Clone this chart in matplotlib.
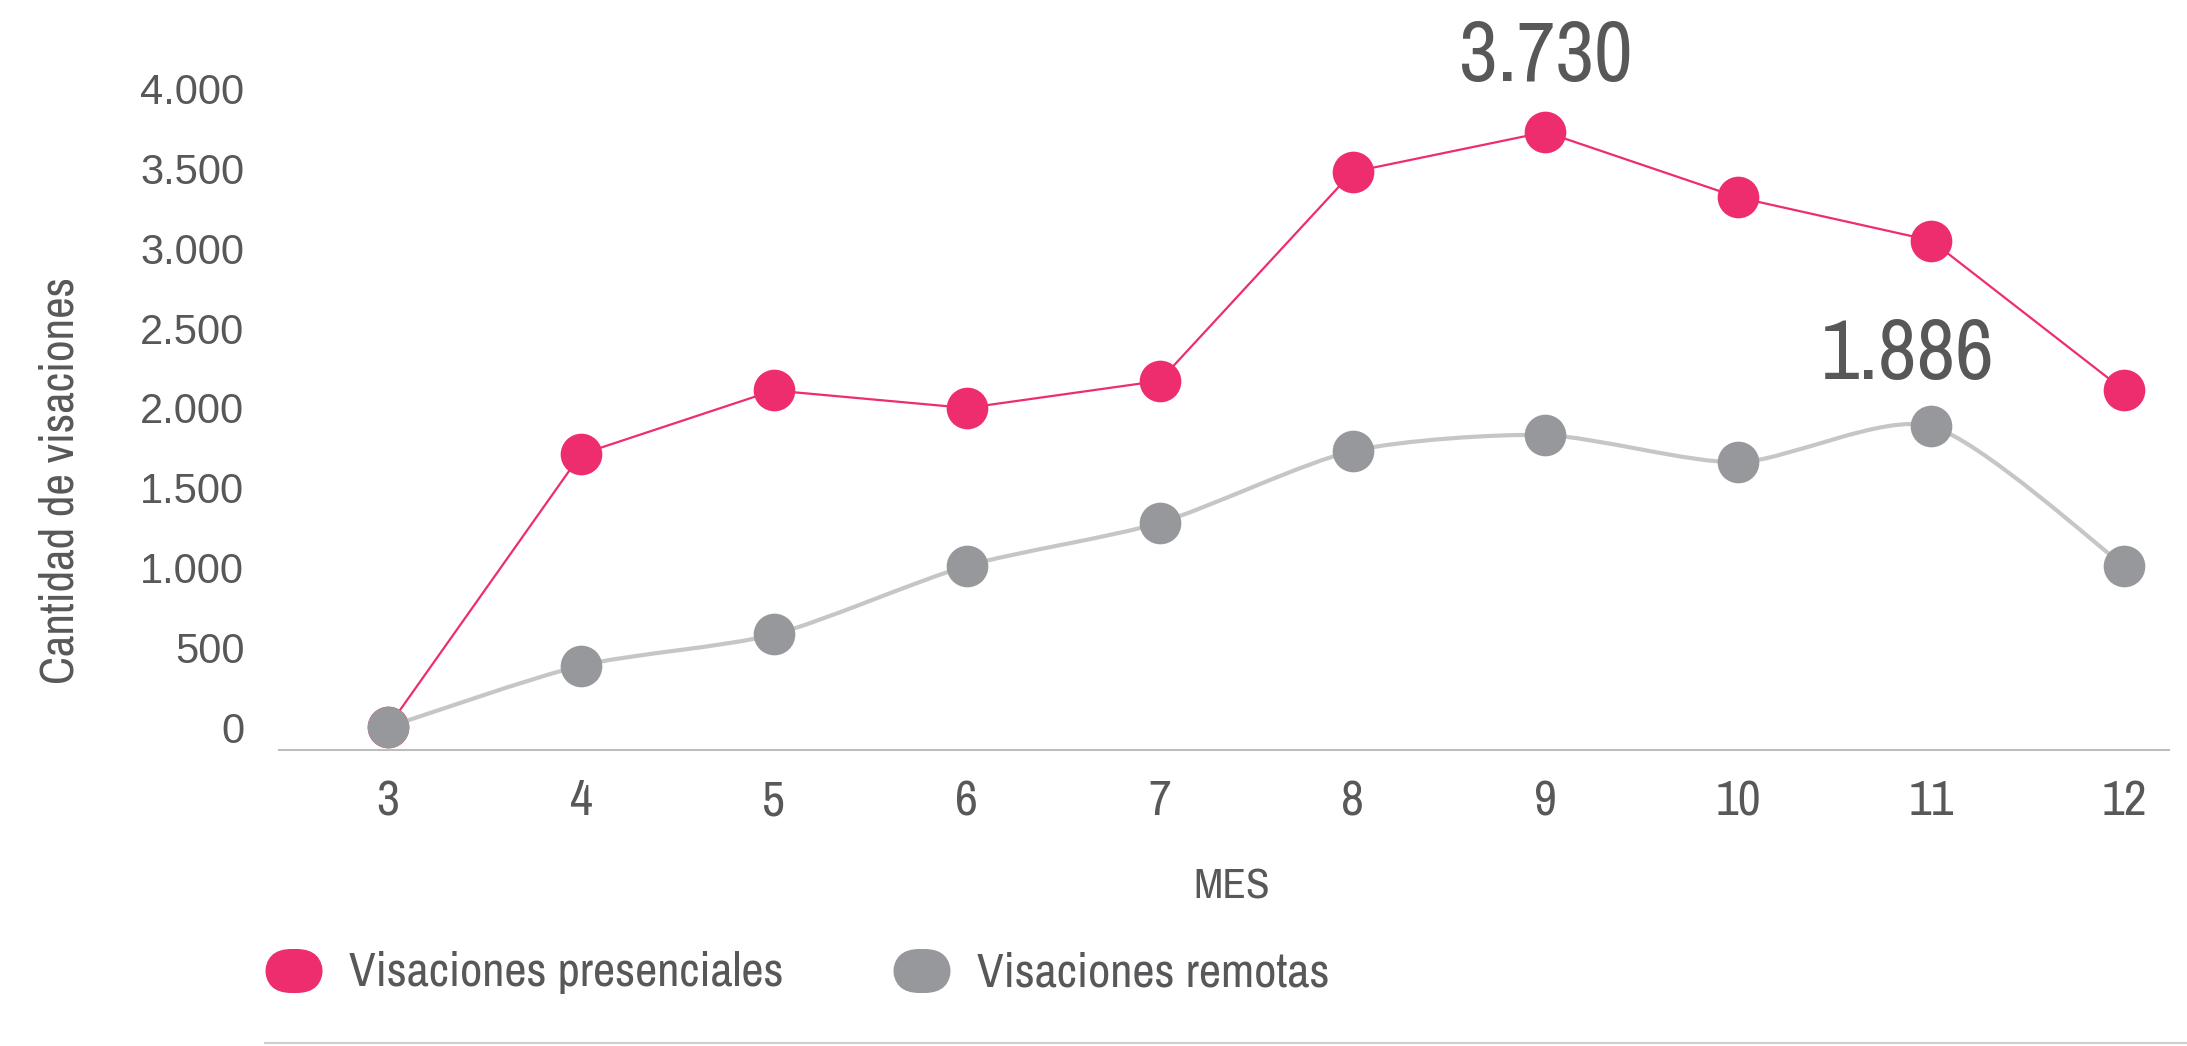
import matplotlib
matplotlib.use("Agg")
import matplotlib.pyplot as plt
from matplotlib.path import Path
from matplotlib.patches import PathPatch, FancyBboxPatch
from matplotlib import font_manager

# Monthly visa counts
meses = [3, 4, 5, 6, 7, 8, 9, 10, 11, 12]
presenciales = [0, 1710, 2110, 2000, 2170, 3480, 3730, 3320, 3050, 2110]
remotas = [0, 385, 580, 1010, 1280, 1730, 1830, 1660, 1886, 1010]
y_ticks = [0, 500, 1000, 1500, 2000, 2500, 3000, 3500, 4000]
y_ticklabels = ["0", "500", "1.000", "1.500", "2.000", "2.500", "3.000", "3.500", "4.000"]

PINK = "#EE2D6E"
GRAY_DOT = "#97989C"
GRAY_LINE = "#C6C6C6"
TEXT = "#58585A"

# pick a condensed face if one is installed
fonts = font_manager.fontManager.ttflist
narrow = None
for f in fonts:
    if "Narrow" in f.name or "Condensed" in f.name:
        narrow = f.name
        break
stretch = "normal"
if narrow is None:
    for f in fonts:
        if f.stretch in ("condensed", "semi-condensed", "extra-condensed", 500, 600, 700) \
                or str(f.stretch).endswith("condensed"):
            narrow = f.name
            stretch = f.stretch
            break
names = {f.name for f in fonts}
regular = "Liberation Sans" if "Liberation Sans" in names else "DejaVu Sans"
if narrow is None:
    narrow = regular
plt.rcParams["font.family"] = [narrow, "DejaVu Sans"]
plt.rcParams["font.stretch"] = stretch

fig = plt.figure(figsize=(21.87, 10.46), dpi=100)
ax = fig.add_axes([0.1276, 0.283, 0.8642, 0.6597])

# presenciales: straight segments
ax.plot(meses, presenciales, color=PINK, linewidth=1.6, zorder=2)
ax.plot(meses, presenciales, linestyle="none", marker="o", markersize=30,
        color=PINK, markeredgewidth=0, zorder=3)

# remotas: smoothed curve (cardinal spline as cubic Bezier)
k = 1 / 8
verts = [(meses[0], remotas[0])]
codes = [Path.MOVETO]
n = len(meses)
for i in range(n - 1):
    x0, y0 = (meses[i - 1], remotas[i - 1]) if i > 0 else (meses[i], remotas[i])
    x1, y1 = meses[i], remotas[i]
    x2, y2 = meses[i + 1], remotas[i + 1]
    x3, y3 = (meses[i + 2], remotas[i + 2]) if i + 2 < n else (x2, y2)
    c1 = (x1 + (x2 - x0) * k, y1 + (y2 - y0) * k)
    c2 = (x2 - (x3 - x1) * k, y2 - (y3 - y1) * k)
    verts += [c1, c2, (x2, y2)]
    codes += [Path.CURVE4] * 3
ax.add_patch(PathPatch(Path(verts, codes), facecolor="none", edgecolor=GRAY_LINE,
                       linewidth=3, zorder=4))
ax.plot(meses, remotas, linestyle="none", marker="o", markersize=30,
        color=GRAY_DOT, markeredgewidth=0, zorder=5)

# value callouts
ax.annotate("3.730", (meses[6], presenciales[6]), xytext=(0, 54), textcoords="offset points",
            ha="center", va="center", fontsize=61, color=TEXT)
ax.annotate("1.886", (meses[8], remotas[8]), xytext=(-17, 51), textcoords="offset points",
            ha="center", va="center", fontsize=61, color=TEXT)

ax.set_xlim(2.435, 12.233)
ax.set_ylim(-144, 4182)
ax.set_xticks(meses)
ax.set_xticklabels([str(m) for m in meses])
ax.set_yticks(y_ticks)
ax.set_yticklabels(y_ticklabels, family=regular, fontstretch="normal")
ax.tick_params(axis="x", length=0, pad=21, labelsize=36, labelcolor=TEXT)
ax.tick_params(axis="y", length=0, pad=25, labelsize=30, labelcolor=TEXT)
for side in ["top", "right", "left"]:
    ax.spines[side].set_visible(False)
ax.spines["bottom"].set_color("#BDBDBD")
ax.spines["bottom"].set_linewidth(1.5)

ax.set_xlabel("MES", fontsize=31, color=TEXT, labelpad=31)
ax.xaxis.label.set_x(0.5042)
fig.text(60 / 2187, 1 - 481 / 1046, "Cantidad de visaciones", rotation=90,
         ha="center", va="center", fontsize=34, color=TEXT)

# legend drawn by hand
W, H = 2187, 1046
for x0, color, label in [(265, PINK, "Visaciones presenciales"),
                         (893, GRAY_DOT, "Visaciones remotas")]:
    fig.patches.append(FancyBboxPatch((x0 / W, 1 - 993 / H), 58 / W, 44 / H,
                                      boxstyle="round,pad=0,rounding_size=0.012",
                                      mutation_aspect=W / H,
                                      transform=fig.transFigure, facecolor=color,
                                      edgecolor="none"))
    fig.text((x0 + 84) / W, 1 - 973 / H, label, ha="left", va="center",
             fontsize=35, color=TEXT)

fig.add_artist(plt.Line2D([265 / W, 1.0], [1 - 1043 / H] * 2, color="#CFCFCF",
                          linewidth=1.5, transform=fig.transFigure))

fig.savefig("out.png", dpi=100)
